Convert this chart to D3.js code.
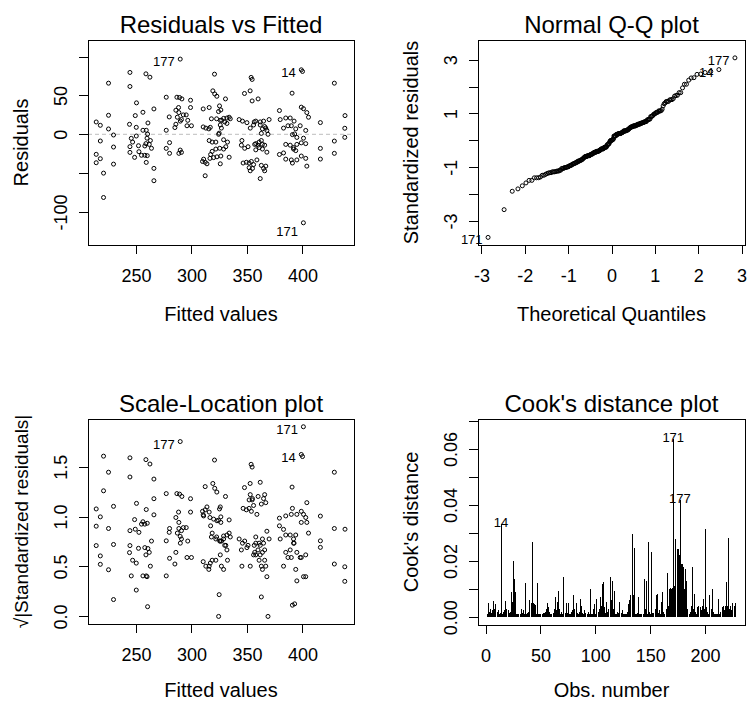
<!DOCTYPE html>
<html>
<head>
<meta charset="utf-8">
<script src="https://cdn.jsdelivr.net/npm/d3@7"></script>
<style>
  body { margin: 0; background: #fff; }
  text { font-family: 'Liberation Sans', Arial, sans-serif; fill: #000; }
</style>
</head>
<body>
<svg id="canvas"></svg>
<script>
// lm diagnostics, 4 panels

// fitted values + residuals (one entry per obs)
let fitted = [
  214.2, 217.9, 225.3, 229.8, 217.9, 229.8, 214.2, 217.9, 214.2, 229.8, 220.8, 220.8, 225.3, 225.3,
  244.6, 244.6, 259, 262.6, 250.5, 266.2, 256.3, 249.4, 244.2, 250.3, 260.8, 259.3, 260.5, 256.3, 250.3, 245.8, 260,
  263, 259, 262, 258, 247, 244.6, 252.3, 264, 244.6, 252.7, 255, 258, 260.2, 248.8, 259.3, 266.2, 266.2,
  289.9, 277.3, 286.9, 289.3, 291.4, 299.2, 299.2, 288.4, 286, 288.7, 292.7, 295.3, 280, 287.3,
  291, 290, 296.7, 296, 300, 286, 285.1, 277.3, 280.3, 277.3, 289.9, 291, 280.3, 288.7,
  320.8, 319.3, 321, 322.9, 330.7, 325.3, 310.6, 316, 324.4, 326.5,
  318, 322.7, 326, 327.2, 329, 332, 334, 335, 330, 326, 327, 332, 325, 324.5, 310.6, 313, 315.7, 317,
  316, 318.7, 322, 329, 332.5, 331, 325.5, 329, 322, 318.7, 317.3, 316.7, 320, 323, 326.5, 334, 311, 312.4, 314, 310, 326, 312.4,
  353.8, 354.7, 347.8, 352.9, 354.7, 360.1,
  343, 346, 350, 356.6, 358, 362, 365, 370, 356, 362, 366, 353, 364, 368, 367, 369,
  345.5, 345, 348, 351, 357, 361, 358, 363, 360, 364, 366, 361, 364, 358, 363, 368,
  346.6, 349.5, 352, 354, 356, 359, 355, 353, 352, 363, 365, 366, 367, 362,
  399, 400.1, 390.7, 379.3, 399, 401, 404, 405.5, 380, 385, 389, 387, 383, 392.5, 390, 398, 394, 393, 391, 395, 401, 403,
  385, 389, 392, 395, 399, 403, 392, 394, 379.3, 383, 385, 390, 391, 395, 399, 403, 404, 400.9,
  428.8, 416.2, 438.4, 438.2, 438.2, 428.8, 416.2, 416.2, 428.8
]
let resid = [
  15.9, 11.6, 6.9, -0.9, -8.6, -16.4, -25.8, -31.4, -36.6, -38.4, -50, -81.4, 65.9, 24.5,
  79.7, 61.6, 77.9, 73.6, 40.5, 32.7, 28.4, 24.1, 12.9, 9, 14.6, 5.2, 0.3, 5.2, -2.2, -5.2, -5,
  -8, -12, -13, -15, -10, -15.9, -14.7, -18, -23.3, -22.4, -27, -27, -27.5, -29.7, -36.2, -43.9, -59.8,
  96.9, 47.8, 47.8, 47.4, 45.6, 43.9, 34.5, 34.5, 31, 28, 25, 25, 22.4, 22,
  19, 17, 18, 11, 11, 13, 8.7, 5.2, -10.7, -18.1, -20.3, -23.3, -24.5, -24.5,
  77.5, 56, 52, 49, 45.6, 36.6, 32.7, 34.5, 29.3, 31.4,
  20, 20, 18, 18, 20.5, 21, 22, 20, 16, 12, 8, 14, 1.5, 0, 9.5, 8, 7, 9,
  -8, -10, -10, -7, -10, -16, -18, -19, -19, -22, -26, -31, -30, -29, -28, -29.5, -32, -36, -38, -35, -38, -53.4,
  73.3, 70.7, 52.6, 56, 43, 45.6,
  19, 17, 15, 16, 17, 16, 17, 19, 12, 12, 10, 8, 7, 5, 8, 0,
  -8, -14, -18, -16, -13, -10, -12, -8, -14, -13, -14, -17, -19, -20, 1.2, -23,
  -37, -36, -37, -35, -39, -33, -44, -47, -43, -40, -44, -47, -41, -57,
  83.1, 81, 53, 30.6, 35, 33, 28, 22, 19, 21, 21, 11, 8, 17, 11, 11, 7, 0.5, -0.4, -4, -5, 5,
  -13, -14, -17, -13, -11, -12, -19, -21, -26, -24, -32, -33, -37, -33, -28, -31, -41, -114,
  65.9, 15.1, 24.1, 7.8, -3.9, -8.7, -18.1, -31.9, -24.5
]
// residual standard error (ratio)
let sigma = 31.6
// names of the 3 largest |residuals|, in order
let idNames = ['171', '177', '14']

// cook's distance by observation number 1..227
let cookD = [
  0.0010, 0.0051, 0.0020, 0.0030, 0.0015, 0.0025, 0.0056, 0.0030, 0.0048, 0.0020,
  0.0025, 0.0010, 0.0014, 0.0334, 0.0012, 0.0017, 0.0025, 0.0056, 0.0028, 0.0024,
  0.0015, 0.0020, 0.0089, 0.0055, 0.0199, 0.0137, 0.0090, 0.0010, 0.0012, 0.0010,
  0.0010, 0.0030, 0.0015, 0.0024, 0.0012, 0.0123, 0.0010, 0.0014, 0.0020, 0.0060,
  0.0050, 0.0268, 0.0051, 0.0048, 0.0045, 0.0010, 0.0123, 0.0010, 0.0010, 0.0010,
  0.0012, 0.0014, 0.0015, 0.0020, 0.0030, 0.0051, 0.0035, 0.0020, 0.0010, 0.0012,
  0.0014, 0.0030, 0.0072, 0.0025, 0.0055, 0.0095, 0.0030, 0.0010, 0.0020, 0.0012,
  0.0143, 0.0015, 0.0051, 0.0014, 0.0051, 0.0010, 0.0012, 0.0020, 0.0025, 0.0078,
  0.0030, 0.0051, 0.0015, 0.0010, 0.0020, 0.0063, 0.0039, 0.0015, 0.0012, 0.0025,
  0.0014, 0.0010, 0.0020, 0.0010, 0.0099, 0.0012, 0.0010, 0.0030, 0.0048, 0.0010,
  0.0063, 0.0020, 0.0030, 0.0072, 0.0040, 0.0119, 0.0125, 0.0035, 0.0015, 0.0055,
  0.0020, 0.0030, 0.0143, 0.0060, 0.0128, 0.0030, 0.0095, 0.0010, 0.0012, 0.0020,
  0.0015, 0.0054, 0.0014, 0.0024, 0.0012, 0.0010, 0.0010, 0.0012, 0.0020, 0.0048,
  0.0060, 0.0078, 0.0295, 0.0080, 0.0247, 0.0010, 0.0012, 0.0014, 0.0072, 0.0010,
  0.0012, 0.0010, 0.0012, 0.0135, 0.0030, 0.0130, 0.0010, 0.0268, 0.0020, 0.0012,
  0.0232, 0.0015, 0.0014, 0.0030, 0.0078, 0.0083, 0.0015, 0.0025, 0.0010, 0.0054,
  0.0089, 0.0020, 0.0010, 0.0030, 0.0158, 0.0040, 0.0099, 0.0103, 0.0100, 0.0103,
  0.0636, 0.0110, 0.0278, 0.0244, 0.0244, 0.0220, 0.0417, 0.0190, 0.0190, 0.0180,
  0.0100, 0.0173, 0.0130, 0.0030, 0.0010, 0.0020, 0.0040, 0.0179, 0.0030, 0.0083,
  0.0020, 0.0010, 0.0035, 0.0040, 0.0035, 0.0025, 0.0040, 0.0066, 0.0030, 0.0316,
  0.0035, 0.0020, 0.0010, 0.0078, 0.0030, 0.0099, 0.0020, 0.0012, 0.0010, 0.0012,
  0.0010, 0.0065, 0.0010, 0.0020, 0.0035, 0.0040, 0.0025, 0.0040, 0.0125, 0.0040,
  0.0283, 0.0030, 0.0040, 0.0025, 0.0051, 0.0040, 0.0051
]

// ticks
let fitTicks = [250, 300, 350, 400]
let residTicks = [-100, -50, 0, 50, 100]
let residLabels = [-100, 0, 50]
let qqTicks = [-3, -2, -1, 0, 1, 2, 3]
let qqYLabels = [-3, -1, 1, 3]
let slTicks = [0, 0.5, 1, 1.5]
let obsTicks = [0, 50, 100, 150, 200]
let cookTicks = [0, 0.01, 0.02, 0.03, 0.04, 0.05, 0.06, 0.07]
let cookLabels = [0, 0.02, 0.04, 0.06]

let width = 748
let height = 702
let svg = d3.select('#canvas').attr('width', width).attr('height', height)

let n = resid.length

// inverse normal cdf (Acklam) for the theoretical quantiles
let qnorm = (p) => {
  let a = [-3.969683028665376e+01, 2.209460984245205e+02, -2.759285104469687e+02, 1.383577518672690e+02, -3.066479806614716e+01, 2.506628277459239e+00]
  let b = [-5.447609879822406e+01, 1.615858368580409e+02, -1.556989798598866e+02, 6.680131188771972e+01, -1.328068155288572e+01]
  let c = [-7.784894002430293e-03, -3.223964580411365e-01, -2.400758277161838e+00, -2.549732539343734e+00, 4.374664141464968e+00, 2.938163982698783e+00]
  let d = [7.784695709041462e-03, 3.224671290700398e-01, 2.445134137142996e+00, 3.754408661907416e+00]
  let tail = (q) => (((((c[0]*q + c[1])*q + c[2])*q + c[3])*q + c[4])*q + c[5]) / ((((d[0]*q + d[1])*q + d[2])*q + d[3])*q + 1)
  if (p < 0.02425) return tail(Math.sqrt(-2 * Math.log(p)))
  if (p > 1 - 0.02425) return -tail(Math.sqrt(-2 * Math.log(1 - p)))
  let q = p - 0.5, r = q * q
  return (((((a[0]*r + a[1])*r + a[2])*r + a[3])*r + a[4])*r + a[5])*q / (((((b[0]*r + b[1])*r + b[2])*r + b[3])*r + b[4])*r + 1)
}

let obs = resid.map((r, i) => ({ fit: fitted[i], res: r, std: r / sigma }))
// label the 3 biggest |residuals|
let byAbs = obs.slice().sort((p, q) => Math.abs(q.res) - Math.abs(p.res))
byAbs.slice(0, 3).forEach((o, i) => { o.label = idNames[i] })
// qq positions
let sorted = obs.slice().sort((p, q) => p.std - q.std)
sorted.forEach((o, i) => { o.theo = qnorm((i + 1 - 0.5) / n) })

let panel = (left, top, w, h, title, xlab, ylab, xlabOff, ylabSize) => {
  let g = svg.append('g').attr('transform', 'translate(' + left + ',' + top + ')')
  g.append('text').attr('x', w / 2).attr('y', -7.5)
    .attr('text-anchor', 'middle').style('font-size', '24px').text(title)
  g.append('text').attr('x', w / 2).attr('y', h + xlabOff)
    .attr('text-anchor', 'middle').style('font-size', '20px').text(xlab)
  g.append('text').attr('transform', 'translate(-60,' + (h / 2) + ') rotate(-90)')
    .attr('text-anchor', 'middle').style('font-size', ylabSize + 'px').text(ylab)
  return g
}

let axes = (g, x, y, h, xTicks, yTicks, yShown, fmtY) => {
  let xa = g.append('g').attr('transform', 'translate(0,' + h + ')')
    .call(d3.axisBottom(x).tickValues(xTicks).tickSize(9).tickFormat(d => String(d)))
  xa.select('.domain').remove()
  xa.selectAll('text').attr('y', 37).attr('dy', null).style('font-size', '18px')

  let ya = g.append('g')
    .call(d3.axisLeft(y).tickValues(yTicks).tickSize(9).tickFormat(d => yShown.includes(d) ? fmtY(d) : ''))
  ya.select('.domain').remove()
  ya.selectAll('text')
    .attr('x', 0).attr('y', -21).attr('dy', null)
    .attr('transform', 'rotate(-90)')
    .attr('text-anchor', 'middle')
    .style('font-size', '18px')
  g.selectAll('.tick line').attr('stroke', '#000').attr('shape-rendering', 'crispEdges')
  g.selectAll('.tick text').attr('fill', '#000')
}

let box = (g, w, h) => {
  g.append('rect').attr('x', 0.5).attr('y', 0.5).attr('width', w).attr('height', h)
    .attr('fill', 'none').attr('stroke', '#000').attr('stroke-width', 1)
}

let dots = (g, data, xf, yf) => {
  g.append('g').selectAll('circle').data(data).enter().append('circle')
    .attr('cx', xf).attr('cy', yf).attr('r', 2)
    .attr('fill', 'none').attr('stroke', '#000').attr('stroke-width', 1)
}

let idText = (g, data, xf, yf, dy) => {
  g.append('g').selectAll('text').data(data.filter(o => o.label)).enter().append('text')
    .attr('x', o => xf(o) - 5.5)
    .attr('y', o => yf(o) + dy(o))
    .attr('text-anchor', 'end')
    .style('font-size', '13px')
    .text(o => o.label)
}

let W = 266, H = 205

// 1. residuals vs fitted
let g1 = panel(88, 40, W, H, 'Residuals vs Fitted', 'Fitted values', 'Residuals', 76, 20)
let x1 = d3.scaleLinear().domain([206.8, 446.5]).range([0, W])
let y1 = d3.scaleLinear().domain([-142.6, 121.5]).range([H, 0])
g1.append('line').attr('x1', 0).attr('x2', W).attr('y1', y1(0)).attr('y2', y1(0))
  .attr('stroke', '#bdbdbd').attr('stroke-dasharray', '4,3')
dots(g1, obs, o => x1(o.fit), o => y1(o.res))
idText(g1, obs, o => x1(o.fit), o => y1(o.res), o => o.res < 0 ? 13 : 7)
box(g1, W, H)
axes(g1, x1, y1, H, fitTicks, residTicks, residLabels, d => String(d))

// 2. normal q-q
let g2 = panel(478, 40, W + 1, H, 'Normal Q-Q plot', 'Theoretical Quantiles', 'Standardized residuals', 76, 20)
let x2 = d3.scaleLinear().domain([-3.08, 3.08]).range([0, W + 1])
let y2 = d3.scaleLinear().domain([-3.89, 3.73]).range([H, 0])
dots(g2, sorted, o => x2(o.theo), o => y2(o.std))
idText(g2, sorted, o => x2(o.theo), o => y2(o.std), o => 7)
box(g2, W + 1, H)
axes(g2, x2, y2, H, qqTicks, qqTicks, qqYLabels, d => String(d))

// 3. scale-location
let g3 = panel(88, 419, W, H, 'Scale-Location plot', 'Fitted values', '\u221A|Standardized residuals|', 72.5, 19)
let y3 = d3.scaleLinear().domain([-0.076, 1.977]).range([H, 0])
dots(g3, obs, o => x1(o.fit), o => y3(Math.sqrt(Math.abs(o.std))))
idText(g3, obs, o => x1(o.fit), o => y3(Math.sqrt(Math.abs(o.std))), o => 7.5)
box(g3, W, H)
axes(g3, x1, y3, H, fitTicks, slTicks, slTicks, d3.format('.1f'))

// 4. cook's distance
let g4 = panel(478, 419, W + 1, H + 1, "Cook's distance plot", 'Obs. number', "Cook's distance", 71.5, 20)
let x4 = d3.scaleLinear().domain([-6.9, 236.4]).range([0, W + 1])
let y4 = d3.scaleLinear().domain([-0.0028, 0.0707]).range([H + 1, 0])
let cook = cookD.map((v, i) => ({ id: i + 1, v: v }))
g4.append('g').selectAll('line').data(cook).enter().append('line')
  .attr('x1', c => Math.round(x4(c.id)) + 0.5).attr('x2', c => Math.round(x4(c.id)) + 0.5)
  .attr('y1', y4(0)).attr('y2', c => y4(c.v))
  .attr('stroke', '#000').attr('stroke-width', 1).attr('shape-rendering', 'crispEdges')
let topCook = cook.slice().sort((p, q) => q.v - p.v).slice(0, 3)
g4.append('g').selectAll('text').data(topCook).enter().append('text')
  .attr('x', c => x4(c.id)).attr('y', c => y4(c.v) + 3)
  .attr('text-anchor', 'middle').style('font-size', '13px')
  .text(c => c.id)
box(g4, W + 1, H + 1)
axes(g4, x4, y4, H + 1, obsTicks, cookTicks, cookLabels, d3.format('.2f'))
</script>
</body>
</html>
